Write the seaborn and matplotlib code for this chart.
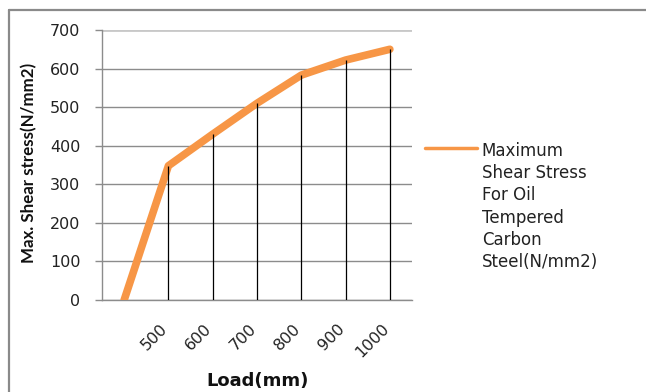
import matplotlib
matplotlib.use("Agg")
import matplotlib.pyplot as plt
from matplotlib.lines import Line2D
import seaborn as sns
import pandas as pd

# Load categories (the first category carries no label) and measured stress values
loads = ["", "500", "600", "700", "800", "900", "1000"]
shear_stress = [0, 348, 430, 510, 583, 622, 650]
y_ticks = [0, 100, 200, 300, 400, 500, 600, 700]
series_label = "Maximum\nShear Stress\nFor Oil\nTempered\nCarbon\nSteel(N/mm2)"

sns.set_theme(style="white")
plt.rcParams["font.family"] = ["DejaVu Sans"]

df = pd.DataFrame({"pos": range(len(loads)), "load": loads, "stress": shear_stress})

W, H = 646, 392
fig = plt.figure(figsize=(W / 100, H / 100), dpi=100)
fig.patch.set_facecolor("white")

# outer chart frame (top and left edges)
frame_c = "#8a8a8a"
fig.add_artist(Line2D([9 / W, 1], [1 - 10 / H, 1 - 10 / H], color=frame_c, lw=1.6))
fig.add_artist(Line2D([9 / W, 9 / W], [0, 1 - 10 / H], color=frame_c, lw=1.6))

ax = fig.add_axes([102 / W, 1 - 300 / H, 310 / W, 270 / H])

sns.lineplot(data=df, x="pos", y="stress", ax=ax, color="#F79646", lw=5.5,
             solid_capstyle="round", solid_joinstyle="round",
             label=series_label, zorder=3)
# drop lines from each point to the category axis
ax.vlines(df["pos"][1:], 0, df["stress"][1:], color="black", lw=0.9, zorder=4)

ax.set_xlim(-0.5, len(loads) - 0.5)
ax.set_ylim(0, 700)
ax.set_yticks(y_ticks)
ax.set_yticklabels([str(v) for v in y_ticks])
ax.set_xticks(df["pos"])
ax.set_xticklabels(loads)

grid_c = "#8c8c8c"
ax.yaxis.grid(True, color=grid_c, lw=1.0)
ax.xaxis.grid(False)
ax.set_axisbelow(True)
gl = ax.yaxis.get_gridlines()
gl[-1].set_color("#c8c8c8")
gl[-1].set_linewidth(2.0)

for side in ["top", "right"]:
    ax.spines[side].set_visible(False)
for side in ["left", "bottom"]:
    ax.spines[side].set_color(grid_c)
    ax.spines[side].set_linewidth(1.0)

ax.tick_params(axis="y", which="major", left=True, length=5, width=1.0,
               color=grid_c, pad=10.5, labelsize=11.5, labelcolor="#222222")
ax.tick_params(axis="x", which="major", bottom=False, length=0, pad=21,
               labelsize=11.5, labelcolor="#222222")
for lbl in ax.get_xticklabels():
    lbl.set_rotation(45)
    lbl.set_ha("right")
    lbl.set_va("baseline")
    lbl.set_rotation_mode("anchor")

ax.set_xlabel("")
ax.set_ylabel("")
fig.text(258 / W, 1 - 381 / H, "Load(mm)", ha="center", va="center",
         fontsize=13, fontweight="bold", color="#111111")
fig.text(29 / W, 1 - 163 / H, "Max. Shear stress(N/mm2)", rotation=90,
         ha="center", va="center", fontsize=12.2, fontweight="bold",
         family=["Lato", "DejaVu Sans"], color="#111111")

leg = ax.legend(loc="upper left", bbox_to_anchor=(425 / W, 1 - 142 / H),
                bbox_transform=fig.transFigure, frameon=False,
                prop={"family": "DejaVu Sans", "size": 12},
                handlelength=3.1, handletextpad=0.3, borderpad=0,
                borderaxespad=0)
leg.get_lines()[0].set_linewidth(2.5)
for t in leg.get_texts():
    t.set_linespacing(1.3)
    t.set_color("#222222")
# keep the legend key level with the first line of the label
box = getattr(leg, "_legend_handle_box", None)
if box is not None:
    for column in box.get_children():
        for item in column.get_children():
            if hasattr(item, "align"):
                item.align = "top"

fig.savefig("out.png", dpi=100, facecolor="white")
